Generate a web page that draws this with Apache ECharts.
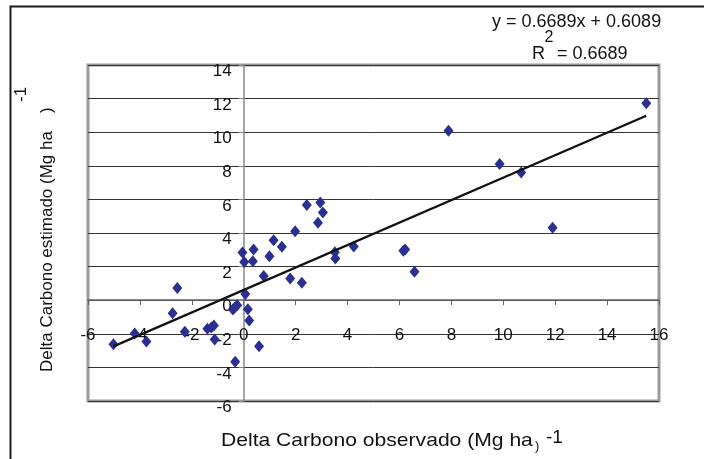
<!DOCTYPE html>
<html>
<head>
<meta charset="utf-8">
<script src="https://cdn.jsdelivr.net/npm/echarts@6/dist/echarts.min.js"></script>
<style>
html,body{margin:0;padding:0;background:#fff;}
#chart{width:704px;height:459px;}
</style>
</head>
<body>
<div id="chart"></div>
<script>
// Observed vs estimated carbon change (Mg ha-1)
var observed = [-5.02, -4.20, -3.75, -2.56, -2.74, -2.27, -1.40, -1.15, -1.25, -1.12, -0.33, -0.42, -0.25, -0.35, 0.16, 0.21, 0.06, 0.59, -0.05, 0.02, 0.38, 0.35, 0.99, 1.15, 1.47, 0.77, 1.98, 1.79, 2.24, 2.43, 2.95, 3.05, 2.86, 3.51, 3.53, 4.24, 6.15, 6.22, 6.58, 7.89, 9.86, 10.69, 11.90, 15.51];
var estimated = [-2.62, -1.98, -2.46, 0.72, -0.77, -1.88, -1.70, -1.50, -1.62, -2.34, -3.67, -0.55, -0.30, -0.45, -0.54, -1.21, 0.37, -2.74, 2.84, 2.28, 3.02, 2.32, 2.62, 3.57, 3.18, 1.44, 4.11, 1.29, 1.04, 5.66, 5.82, 5.22, 4.61, 2.86, 2.48, 3.19, 2.95, 3.02, 1.69, 10.08, 8.10, 7.60, 4.31, 11.73];
var slope = 0.6689;
var intercept = 0.6089;
var equationText = 'y = 0.6689x + 0.6089';
var r2Text = '= 0.6689';
var xTitle = 'Delta Carbono observado (Mg ha';
var yTitle = 'Delta Carbono estimado (Mg ha';

var points = observed.map(function (x, i) { return [x, estimated[i]]; });
var xMin = Math.min.apply(null, observed);
var xMax = Math.max.apply(null, observed);
var trend = [[xMin, slope * xMin + intercept], [xMax, slope * xMax + intercept]];

var FONT = "'Liberation Sans', Arial, sans-serif";
var GRID = {left: 88, top: 65, width: 571, height: 336};
var chart = echarts.init(document.getElementById('chart'), null, {renderer: 'canvas'});
chart.setOption({
  animation: false,
  backgroundColor: '#fff',
  grid: {left: GRID.left, top: GRID.top, width: GRID.width, height: GRID.height, show: true, borderColor: '#9a9a9a', borderWidth: 3, backgroundColor: 'transparent'},
  xAxis: {
    type: 'value', min: -6, max: 16, interval: 2,
    axisLine: {onZero: false, lineStyle: {color: '#666', width: 1.5}},
    axisTick: {show: true, inside: false, length: 5, lineStyle: {color: '#666'}},
    axisLabel: {margin: 27, fontFamily: FONT, fontSize: 17, color: '#111'},
    splitLine: {show: false}
  },
  yAxis: {
    type: 'value', min: -6, max: 14, interval: 2,
    axisLine: {onZero: false, lineStyle: {color: '#888', width: 1.5}},
    axisTick: {show: true, inside: false, length: 5, lineStyle: {color: '#888'}},
    axisLabel: {margin: 12, verticalAlign: 'top', lineHeight: 13, fontFamily: FONT, fontSize: 17, color: '#111'},
    splitLine: {show: true, lineStyle: {color: '#333', width: 1}}
  },
  series: [
    {type: 'scatter', data: points, symbol: 'diamond', symbolSize: [10, 12],
     itemStyle: {color: '#2B2F8F', opacity: 1}, z: 2},
    {type: 'line', data: trend, showSymbol: false, symbol: 'none',
     lineStyle: {color: '#111', width: 2.2}, z: 3}
  ],
  graphic: [
    {type: 'rect', left: 8, top: 4, shape: {x: 0, y: 0, width: 800, height: 600},
     style: {fill: null, stroke: '#1a1a1a', lineWidth: 2}, silent: true},
    {type: 'text', x: 492, y: 22, style: {text: equationText, font: '18px ' + FONT, fill: '#111', textAlign: 'left', textVerticalAlign: 'middle'}},
    {type: 'text', x: 549, y: 38, style: {text: '2', font: '16px ' + FONT, fill: '#111', textAlign: 'center', textVerticalAlign: 'middle'}},
    {type: 'text', x: 532, y: 54, style: {text: 'R', font: '18px ' + FONT, fill: '#111', textAlign: 'left', textVerticalAlign: 'middle'}},
    {type: 'text', x: 557, y: 54, style: {text: r2Text, font: '18px ' + FONT, fill: '#111', textAlign: 'left', textVerticalAlign: 'middle'}},
    {type: 'text', x: 221, y: 441, scaleX: 1.11, style: {text: xTitle, font: '19px ' + FONT, fill: '#111', textAlign: 'left', textVerticalAlign: 'middle'}},
    {type: 'text', x: 535, y: 446, style: {text: ')', font: '13px ' + FONT, fill: '#111', textAlign: 'left', textVerticalAlign: 'middle'}},
    {type: 'text', x: 546, y: 438, style: {text: '-1', font: '19px ' + FONT, fill: '#111', textAlign: 'left', textVerticalAlign: 'middle'}},
    {type: 'text', x: 47, y: 372, rotation: Math.PI / 2, style: {text: yTitle, font: '17px ' + FONT, fill: '#111', textAlign: 'left', textVerticalAlign: 'middle'}},
    {type: 'text', x: 47, y: 113, rotation: Math.PI / 2, style: {text: ')', font: '17px ' + FONT, fill: '#111', textAlign: 'left', textVerticalAlign: 'middle'}},
    {type: 'text', x: 21, y: 102, rotation: Math.PI / 2, style: {text: '-1', font: '17px ' + FONT, fill: '#111', textAlign: 'left', textVerticalAlign: 'middle'}}
  ]
});

// Move both axes (line, ticks, labels) so they cross at the data origin (0,0)
var origin = chart.convertToPixel({gridIndex: 0}, [0, 0]);
var gridBottom = GRID.top + GRID.height;
chart.setOption({
  xAxis: {offset: origin[1] - gridBottom},
  yAxis: {offset: GRID.left - origin[0]}
});
</script>
</body>
</html>
